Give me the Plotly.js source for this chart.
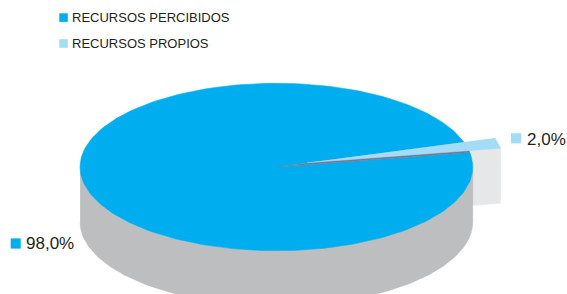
<!DOCTYPE html>
<html><head><meta charset="utf-8">
<script src="https://cdn.plot.ly/plotly-3.0.1.min.js"></script>
<style>html,body{margin:0;padding:0;background:#fff}#chart{width:567px;height:294px}</style>
</head><body><div id="chart"></div>
<script>
// ---- data ----
const categories = ['RECURSOS PERCIBIDOS', 'RECURSOS PROPIOS'];
const values = [98.0, 2.0];
const valueLabels = values.map(v => v.toFixed(1).replace('.', ',') + '%');

// ---- style ----
const topColors = ['#00aeef', '#a3dcf7'];
const sideColors = ['#bcbec0', '#e6e7e8'];
const edgeColor = '#6e7b97';
const textColor = '#231f20';
const FONT = 'Liberation Sans, Arial, Helvetica, sans-serif';

const cx = 276.4, cy = 167, rx = 196.3, ry = 83.7, depth = 55;
const smallStart = 10;          // start angle (deg) of exploded slice
const explodeAngle = 18, explodeMag = 0.165;

const total = values.reduce((a, b) => a + b, 0);
const sweeps = values.map(v => v / total * 360);
const smallEnd = smallStart + sweeps[1];
const mainStart = smallEnd, mainEnd = mainStart + sweeps[0];

const rad = d => d * Math.PI / 180;
const ox = explodeMag * Math.cos(rad(explodeAngle));
const oy = explodeMag * Math.sin(rad(explodeAngle));

function P(theta, r, dx, dy, dz) {
  return [cx + (dx + r * Math.cos(rad(theta))) * rx,
          cy - (dy + r * Math.sin(rad(theta))) * ry + dz];
}
function arc(t0, t1, r, dx, dy, dz) {
  const n = Math.max(8, Math.ceil(Math.abs(t1 - t0) / 1.5));
  const pts = [];
  for (let i = 0; i <= n; i++) pts.push(P(t0 + (t1 - t0) * i / n, r, dx, dy, dz));
  return pts;
}
function poly(pts, color, name) {
  return {
    type: 'scatter', mode: 'lines', fill: 'toself',
    x: pts.map(p => p[0]), y: pts.map(p => p[1]),
    fillcolor: color, line: {color: color, width: 0.6},
    hoverinfo: 'skip', showlegend: false, name: name
  };
}

const apex = P(0, 0, ox, oy, 0);
const lowCorner = P(smallStart, 1, ox, oy, 0);

const traces = [
  // cut face of exploded slice
  poly([apex, lowCorner, [lowCorner[0], lowCorner[1] + depth], [apex[0], apex[1] + depth]], sideColors[1], categories[1]),
  // side of main slice
  poly(arc(180, 360, 1, 0, 0, 0).concat(arc(360, 180, 1, 0, 0, depth)), sideColors[0], categories[0]),
  // top of main slice
  poly([P(0, 0, 0, 0, 0)].concat(arc(mainStart, mainEnd, 1, 0, 0, 0)), topColors[0], categories[0]),
  // inner edge visible in the gap
  poly([P(0, 0, 0, 0, 0)].concat(arc(smallStart, smallEnd, 1, 0, 0, 0)), edgeColor, categories[1]),
  // top of exploded slice
  poly([apex].concat(arc(smallStart, smallEnd, 1, ox, oy, 0)), topColors[1], categories[1])
];

const shapes = [], annotations = [];
// legend
const legY = [17.6, 43.5];
categories.forEach((c, i) => {
  shapes.push({type: 'rect', xref: 'x', yref: 'y', x0: 59.3, x1: 67.8, y0: legY[i] - 4.3, y1: legY[i] + 4.3,
               fillcolor: topColors[i], line: {width: 0}});
  annotations.push({xref: 'x', yref: 'y', x: 69.5, y: legY[i], xanchor: 'left', yanchor: 'middle',
                    text: c, showarrow: false, font: {family: FONT, size: 13, color: textColor}});
});
// value labels
const labPos = [{sx: 10.7, sy: 243.5, tx: 23.8, ty: 243.5}, {sx: 511, sy: 138.3, tx: 524.8, ty: 139}];
[0, 1].forEach(i => {
  const L = labPos[i];
  shapes.push({type: 'rect', xref: 'x', yref: 'y', x0: L.sx, x1: L.sx + 10, y0: L.sy - 5.1, y1: L.sy + 5.1,
               fillcolor: topColors[i], line: {width: 0}});
  annotations.push({xref: 'x', yref: 'y', x: L.tx, y: L.ty, xanchor: 'left', yanchor: 'middle',
                    text: valueLabels[i], showarrow: false, font: {family: FONT, size: 17, color: textColor}});
});

const layout = {
  width: 567, height: 294,
  margin: {l: 0, r: 0, t: 0, b: 0, pad: 0},
  paper_bgcolor: '#ffffff', plot_bgcolor: '#ffffff',
  showlegend: false,
  xaxis: {range: [0, 567], visible: false, fixedrange: true},
  yaxis: {range: [294, 0], visible: false, fixedrange: true},
  shapes: shapes, annotations: annotations
};
Plotly.newPlot('chart', traces, layout, {displayModeBar: false, staticPlot: true});
</script>
</body></html>
